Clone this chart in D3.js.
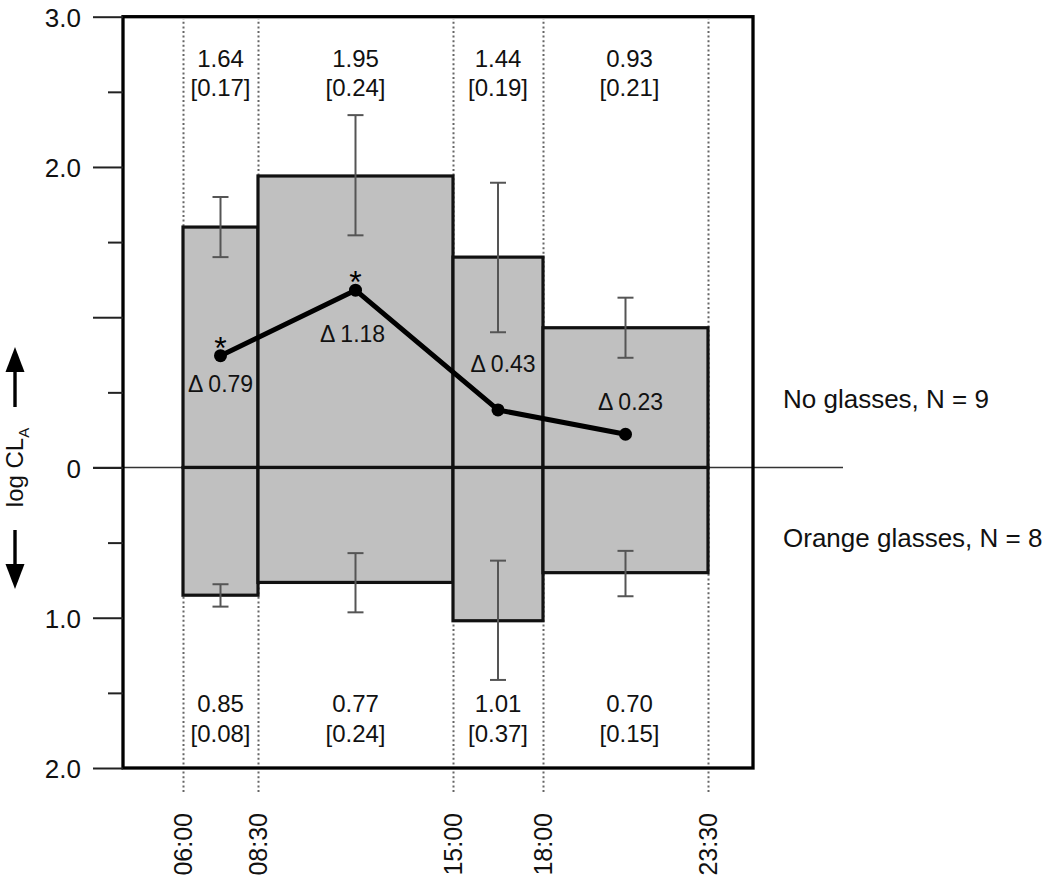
<!DOCTYPE html>
<html><head><meta charset="utf-8">
<script src="https://cdn.jsdelivr.net/npm/d3@7"></script>
<style>html,body{margin:0;padding:0;background:#fff;} svg{display:block;font-family:"Liberation Sans",Arial,Helvetica,sans-serif;}</style>
</head><body><svg id="chart" width="1050" height="884"></svg>
<script>
// ---- data ----
const intervalStart = [6, 8.5, 15, 18];
const intervalEnd = [8.5, 15, 18, 23.5];
const timeTicks = [6, 8.5, 15, 18, 23.5];
const timeLabels = ["06:00", "08:30", "15:00", "18:00", "23:30"];
const noGlassesBar = [1.60, 1.94, 1.40, 0.93];
const noGlassesErrLow = [1.40, 1.545, 0.90, 0.73];
const noGlassesErrHigh = [1.80, 2.345, 1.895, 1.13];
const orangeBar = [0.85, 0.765, 1.02, 0.70];
const orangeErrLow = [0.777, 0.57, 0.62, 0.555];
const orangeErrHigh = [0.926, 0.964, 1.414, 0.857];
const noGlassesMean = ["1.64", "1.95", "1.44", "0.93"];
const noGlassesSD = ["0.17", "0.24", "0.19", "0.21"];
const orangeMean = ["0.85", "0.77", "1.01", "0.70"];
const orangeSD = ["0.08", "0.24", "0.37", "0.15"];
const deltaValues = [0.744, 1.18, 0.383, 0.221];
const deltaLabels = ["Δ 0.79", "Δ 1.18", "Δ 0.43", "Δ 0.23"];
const deltaSignificant = [true, true, false, false];
const yMajorTicks = [3, 2, 1, 0, -1, -2];
const yTickLabels = ["3.0", "2.0", "", "0", "1.0", "2.0"];
const yMinorTicks = [2.5, 1.5, 0.5, -0.5, -1.5];
const seriesNames = ["No glasses, N = 9", "Orange glasses, N = 8"];

// ---- layout (pixel offsets for annotations) ----
const deltaOffsets = [[0, 36], [-3, 52], [5, -38], [5, -24]];

const svg = d3.select("#chart");
const x = d3.scaleLinear().domain([4, 25]).range([123, 753]);
const y = d3.scaleLinear().domain([-2, 3]).range([768, 16.7]);
const mid = i => (intervalStart[i] + intervalEnd[i]) / 2;
const idx = d3.range(intervalStart.length);

// dotted time lines + rotated time labels (x axis)
const xAxis = d3.axisBottom(x).tickValues(timeTicks)
  .tickFormat((d, i) => timeLabels[i])
  .tickSizeInner(-(792 - 19)).tickSizeOuter(0);
const gx = svg.append("g").attr("transform", "translate(0,792)").call(xAxis);
gx.select(".domain").remove();
gx.selectAll(".tick line").attr("stroke", "#666").attr("stroke-width", 2)
  .attr("stroke-dasharray", "2,2.6");
gx.selectAll(".tick text").attr("transform", "rotate(-90)")
  .attr("text-anchor", "end").attr("x", -21).attr("y", 0).attr("dy", "0.35em")
  .attr("font-size", 25).attr("fill", "#111")
  .attr("font-family", "'Liberation Sans',Arial,sans-serif");

// zero line
svg.append("line").attr("x1", 93).attr("x2", x(28)).attr("y1", y(0)).attr("y2", y(0))
  .attr("stroke", "#333").attr("stroke-width", 1.6);

// bars
svg.append("g").selectAll("rect.up").data(idx).join("rect")
  .attr("x", i => x(intervalStart[i])).attr("width", i => x(intervalEnd[i]) - x(intervalStart[i]))
  .attr("y", i => y(noGlassesBar[i])).attr("height", i => y(0) - y(noGlassesBar[i]))
  .attr("fill", "#c0c0c0").attr("stroke", "#111").attr("stroke-width", 3.2);
svg.append("g").selectAll("rect.down").data(idx).join("rect")
  .attr("x", i => x(intervalStart[i])).attr("width", i => x(intervalEnd[i]) - x(intervalStart[i]))
  .attr("y", y(0)).attr("height", i => y(-orangeBar[i]) - y(0))
  .attr("fill", "#c0c0c0").attr("stroke", "#111").attr("stroke-width", 3.2);

// error bars
function errBars(lo, hi, sign) {
  const g = svg.append("g").attr("stroke", "#555").attr("stroke-width", 2);
  idx.forEach(i => {
    const cx = x(mid(i));
    g.append("line").attr("x1", cx).attr("x2", cx).attr("y1", y(sign * lo[i])).attr("y2", y(sign * hi[i]));
    [lo[i], hi[i]].forEach(v => g.append("line").attr("x1", cx - 8).attr("x2", cx + 8)
      .attr("y1", y(sign * v)).attr("y2", y(sign * v)));
  });
}
errBars(noGlassesErrLow, noGlassesErrHigh, 1);
errBars(orangeErrLow, orangeErrHigh, -1);

// difference line
const line = d3.line().x(i => x(mid(i))).y(i => y(deltaValues[i]));
svg.append("path").attr("d", line(idx)).attr("fill", "none").attr("stroke", "#000")
  .attr("stroke-width", 5).attr("stroke-linejoin", "round");
svg.append("g").selectAll("circle").data(idx).join("circle")
  .attr("cx", i => x(mid(i))).attr("cy", i => y(deltaValues[i])).attr("r", 6.5).attr("fill", "#000");
svg.append("g").selectAll("text").data(idx.filter(i => deltaSignificant[i])).join("text")
  .attr("x", i => x(mid(i))).attr("y", i => y(deltaValues[i]) + 3)
  .attr("text-anchor", "middle").attr("font-size", 32).attr("fill", "#000").text("*");
svg.append("g").selectAll("text").data(idx).join("text")
  .attr("x", i => x(mid(i)) + deltaOffsets[i][0]).attr("y", i => y(deltaValues[i]) + deltaOffsets[i][1])
  .attr("text-anchor", "middle").attr("font-size", 23).attr("fill", "#111").text(i => deltaLabels[i]);

// frame
svg.append("rect").attr("x", x(4)).attr("y", y(3)).attr("width", x(25) - x(4)).attr("height", y(-2) - y(3))
  .attr("fill", "none").attr("stroke", "#000").attr("stroke-width", 3.3);

// y axis
const yAxis = d3.axisLeft(y).tickValues(yMajorTicks)
  .tickFormat((d, i) => yTickLabels[i]).tickSize(30).tickPadding(12);
const gy = svg.append("g").attr("transform", `translate(${x(4)},0)`).call(yAxis);
gy.select(".domain").remove();
gy.selectAll(".tick line").attr("stroke", "#222").attr("stroke-width", 2);
gy.selectAll(".tick text").attr("font-size", 26).attr("dy", "0.38em").attr("fill", "#111")
  .attr("font-family", "'Liberation Sans',Arial,sans-serif");
const yMinor = d3.axisLeft(y).tickValues(yMinorTicks).tickFormat("").tickSize(15);
const gym = svg.append("g").attr("transform", `translate(${x(4)},0)`).call(yMinor);
gym.select(".domain").remove();
gym.selectAll(".tick line").attr("stroke", "#222").attr("stroke-width", 2);

// value labels
function valueLabels(means, sds, y1, y2) {
  const g = svg.append("g").attr("font-size", 24).attr("fill", "#111").attr("text-anchor", "middle");
  idx.forEach(i => {
    const cx = x(mid(i)) + (i === 3 ? 4 : 0);
    g.append("text").attr("x", cx).attr("y", y1).text(means[i]);
    g.append("text").attr("x", cx).attr("y", y2).text("[" + sds[i] + "]");
  });
}
valueLabels(noGlassesMean, noGlassesSD, y(3) + 50, y(3) + 79);
valueLabels(orangeMean, orangeSD, y(-2) - 56, y(-2) - 26);

// series names
svg.append("text").attr("x", 783).attr("y", y(0) - 59).attr("font-size", 26).attr("fill", "#111").text(seriesNames[0]);
svg.append("text").attr("x", 783).attr("y", y(0) + 80).attr("font-size", 26).attr("fill", "#111").text(seriesNames[1]);

// y label with arrows
const yl = svg.append("text").attr("transform", `translate(23,${y(0)}) rotate(-90)`)
  .attr("text-anchor", "middle").attr("font-size", 24).attr("fill", "#111");
yl.append("tspan").text("log CL");
yl.append("tspan").attr("font-size", 15).attr("dy", 6).text("A");
const ax = 15;
svg.append("line").attr("x1", ax).attr("x2", ax).attr("y1", 407).attr("y2", 368).attr("stroke", "#000").attr("stroke-width", 3.4);
svg.append("path").attr("d", `M${ax},347 L${ax - 9.5},372 L${ax + 9.5},372 Z`).attr("fill", "#000");
svg.append("line").attr("x1", ax).attr("x2", ax).attr("y1", 530).attr("y2", 568).attr("stroke", "#000").attr("stroke-width", 3.4);
svg.append("path").attr("d", `M${ax},589 L${ax - 9.5},564 L${ax + 9.5},564 Z`).attr("fill", "#000");
</script></body></html>
